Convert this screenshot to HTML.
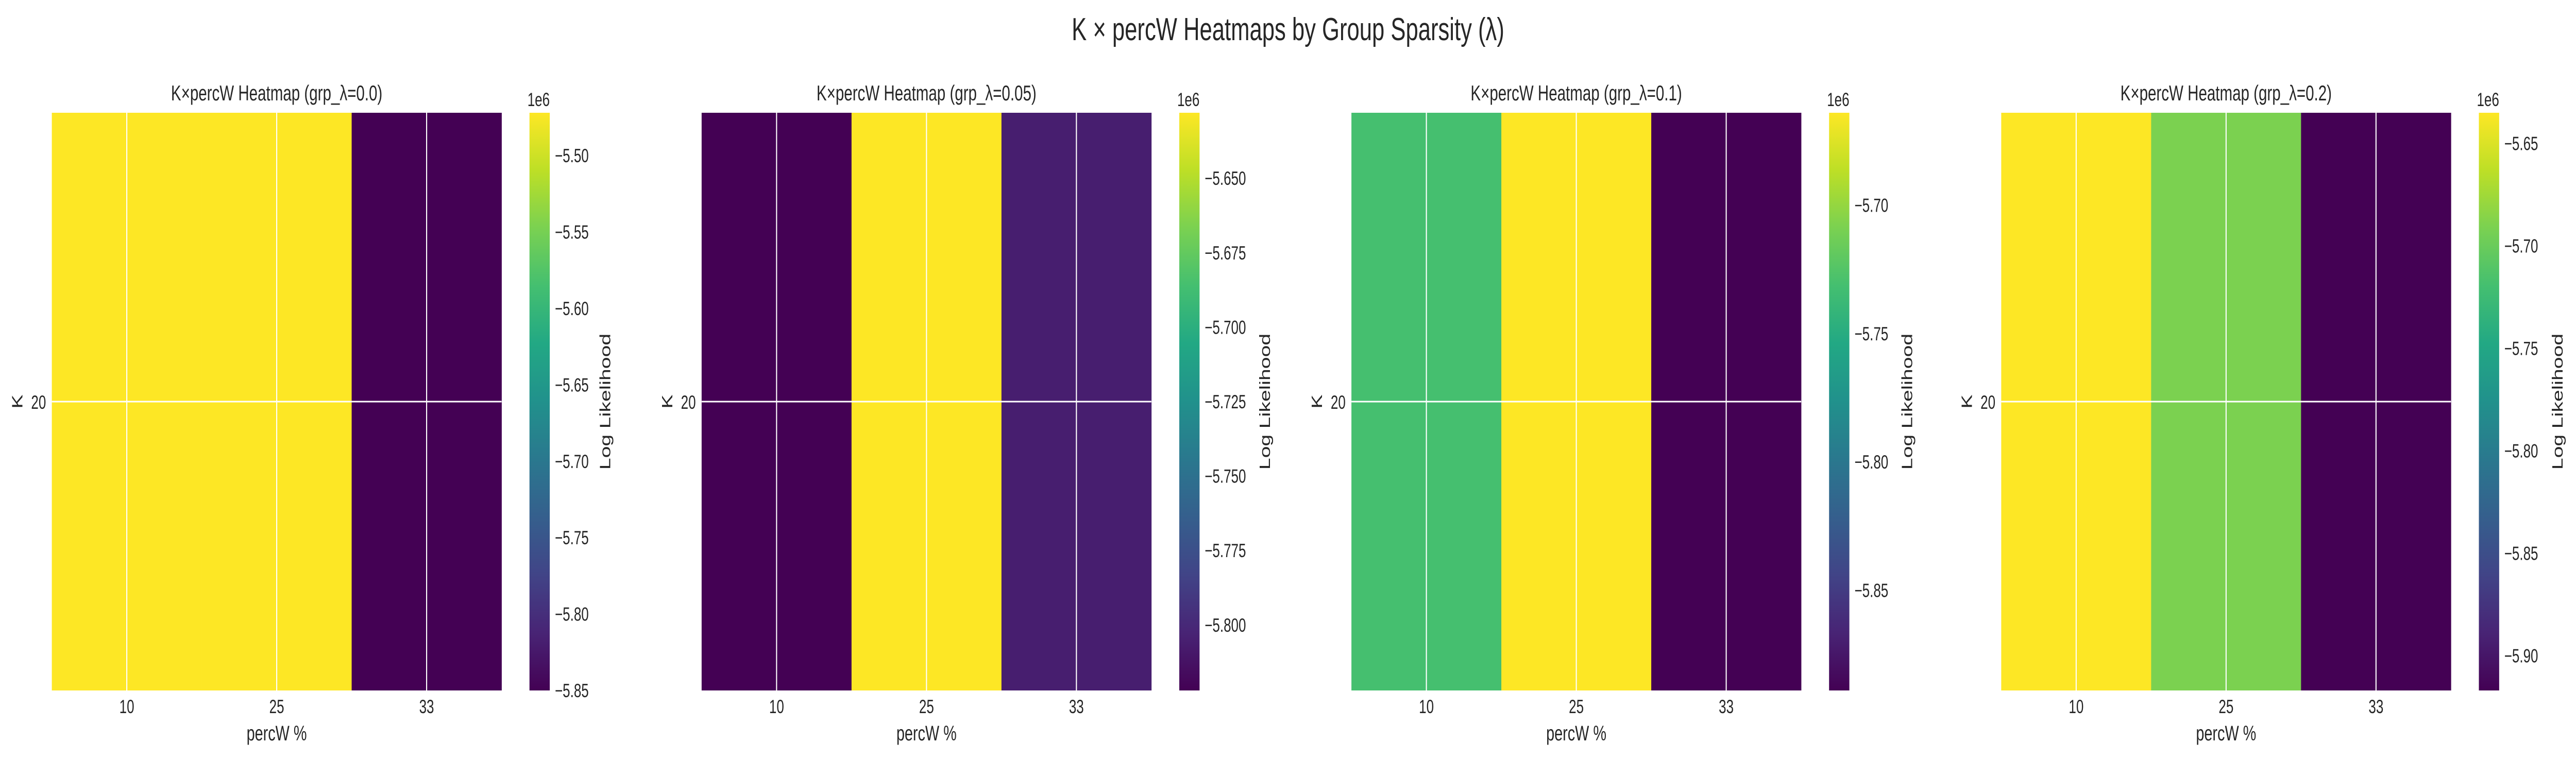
<!DOCTYPE html>
<html><head><meta charset="utf-8"><style>
html,body{margin:0;padding:0;background:#fff;overflow:hidden;width:100vw;height:100vh;}
#chart{display:block;width:100vw;height:100vh;}
svg text{font-family:"Liberation Sans",Arial,sans-serif;fill:#262626;}
</style></head><body>
<svg id="chart" viewBox="0 0 7108 1478" preserveAspectRatio="none" xmlns="http://www.w3.org/2000/svg">
<defs id="defs"></defs>
<text x="3554" y="78" text-anchor="middle" font-size="62">K × percW Heatmaps by Group Sparsity (λ)</text>
</svg>
<script>
// ---- data ----
const lambdas = ["0.0", "0.05", "0.1", "0.2"];
const percW = ["10", "25", "33"];
const kValues = ["20"];
const valsL0 = [-5.472, -5.472, -5.850];
const valsL005 = [-5.822, -5.628, -5.806];
const valsL01 = [-5.731, -5.664, -5.889];
const valsL02 = [-5.635, -5.691, -5.917];
const ticksL0 = [-5.50, -5.55, -5.60, -5.65, -5.70, -5.75, -5.80, -5.85];
const ticksL005 = [-5.650, -5.675, -5.700, -5.725, -5.750, -5.775, -5.800];
const ticksL01 = [-5.70, -5.75, -5.80, -5.85];
const ticksL02 = [-5.65, -5.70, -5.75, -5.80, -5.85, -5.90];
const tickDecimals = [2, 3, 2, 2];

const allVals = [valsL0, valsL005, valsL01, valsL02];
const allTicks = [ticksL0, ticksL005, ticksL01, ticksL02];

// ---- layout ----
const NS = "http://www.w3.org/2000/svg";
const svg = document.getElementById('chart');
const defs = document.getElementById('defs');
const panelLefts = [143, 1936, 3729, 5522];
const axW = 1241, axTop = 219, axBot = 1341;
const cbOff = 1318, cbW = 56;
const cbLabelOff = [1527, 1554, 1533, 1535];

const viridis = ["#440154","#482475","#414487","#355f8d","#2a788e","#21918c","#22a884","#44bf70","#7ad151","#bddf26","#fde725"];
function hex(c){return [parseInt(c.slice(1,3),16),parseInt(c.slice(3,5),16),parseInt(c.slice(5,7),16)];}
function cmap(t){
  t=Math.max(0,Math.min(1,t));
  const p=t*(viridis.length-1), i=Math.min(Math.floor(p),viridis.length-2), f=p-i;
  const a=hex(viridis[i]), b=hex(viridis[i+1]);
  return 'rgb('+a.map((v,k)=>Math.round(v+(b[k]-v)*f)).join(',')+')';
}
function mk(tag, attrs, parent){
  const e=document.createElementNS(NS,tag);
  for(const k in attrs) e.setAttribute(k,attrs[k]);
  (parent||svg).appendChild(e); return e;
}

const grad = mk('linearGradient',{id:'vir',x1:'0',y1:'1',x2:'0',y2:'0'},defs);
viridis.forEach((c,i)=>{ mk('stop',{offset:(i/(viridis.length-1)),'stop-color':c},grad); });

lambdas.forEach((lam, p) => {
  const vals = allVals[p], ticks = allTicks[p];
  const vmin = Math.min(...vals), vmax = Math.max(...vals);
  const L = panelLefts[p];
  const xScale = i => L + i * axW / percW.length;
  const cellW = axW / percW.length;
  const yScale = v => axBot - (v - vmin) / (vmax - vmin) * (axBot - axTop);

  const g = mk('g',{});
  
  

  const t = mk('text',{x:L+axW/2,y:195,'text-anchor':'middle','font-size':42},g);
  t.textContent = 'K×percW Heatmap (grp_λ=' + lam + ')';
  
  

  vals.forEach((v, i) => {
    const r = mk('rect',{x:xScale(i),y:axTop,width:cellW+0.5,height:axBot-axTop,fill:cmap((v-vmin)/(vmax-vmin))},g);
    
    
  });
  percW.forEach((c, i) => {
    const x = xScale(i) + cellW/2;
    const gl = mk('line',{x1:x,x2:x,y1:axTop,y2:axBot,stroke:'#fff','stroke-width':3},g);
    
    
    const tl = mk('text',{x:x,y:1385,'text-anchor':'middle','font-size':37},g);
    tl.textContent = c;
    
    
  });
  const ym = (axTop + axBot) / 2;
  const hl = mk('line',{x1:L,x2:L+axW,y1:ym,y2:ym,stroke:'#fff','stroke-width':3},g);
  
  
  const yl = mk('text',{x:L-16,y:ym+14,'text-anchor':'end','font-size':37},g);
  yl.textContent = kValues[0];
  
  
  const xt = mk('text',{x:L+axW/2,y:1438,'text-anchor':'middle','font-size':41},g);
  xt.textContent = 'percW %';
  
  
  const yt = mk('text',{x:0,y:0,'text-anchor':'middle','font-size':41,transform:'translate('+(L-81)+','+ym+') rotate(-90)'},g);
  yt.textContent = 'K';
  
  

  const cx = L + cbOff;
  const cb = mk('rect',{x:cx,y:axTop,width:cbW,height:axBot-axTop,fill:'url(#vir)'},g);
  
  
  ticks.forEach(tv => {
    const y = yScale(tv);
    const ct = mk('text',{x:cx+cbW+14,y:y+13,'font-size':37},g);
    ct.textContent = '\u2212' + Math.abs(tv).toFixed(tickDecimals[p]);
    
    
  });
  const ex = mk('text',{x:cx+cbW,y:206,'text-anchor':'end','font-size':37},g);
  ex.textContent = '1e6';
  
  
  const cl = mk('text',{x:0,y:0,'text-anchor':'middle','font-size':41,transform:'translate('+(L+cbLabelOff[p]+14)+','+ym+') rotate(-90)'},g);
  cl.textContent = 'Log Likelihood';
  
  
});
</script>
</body></html>
